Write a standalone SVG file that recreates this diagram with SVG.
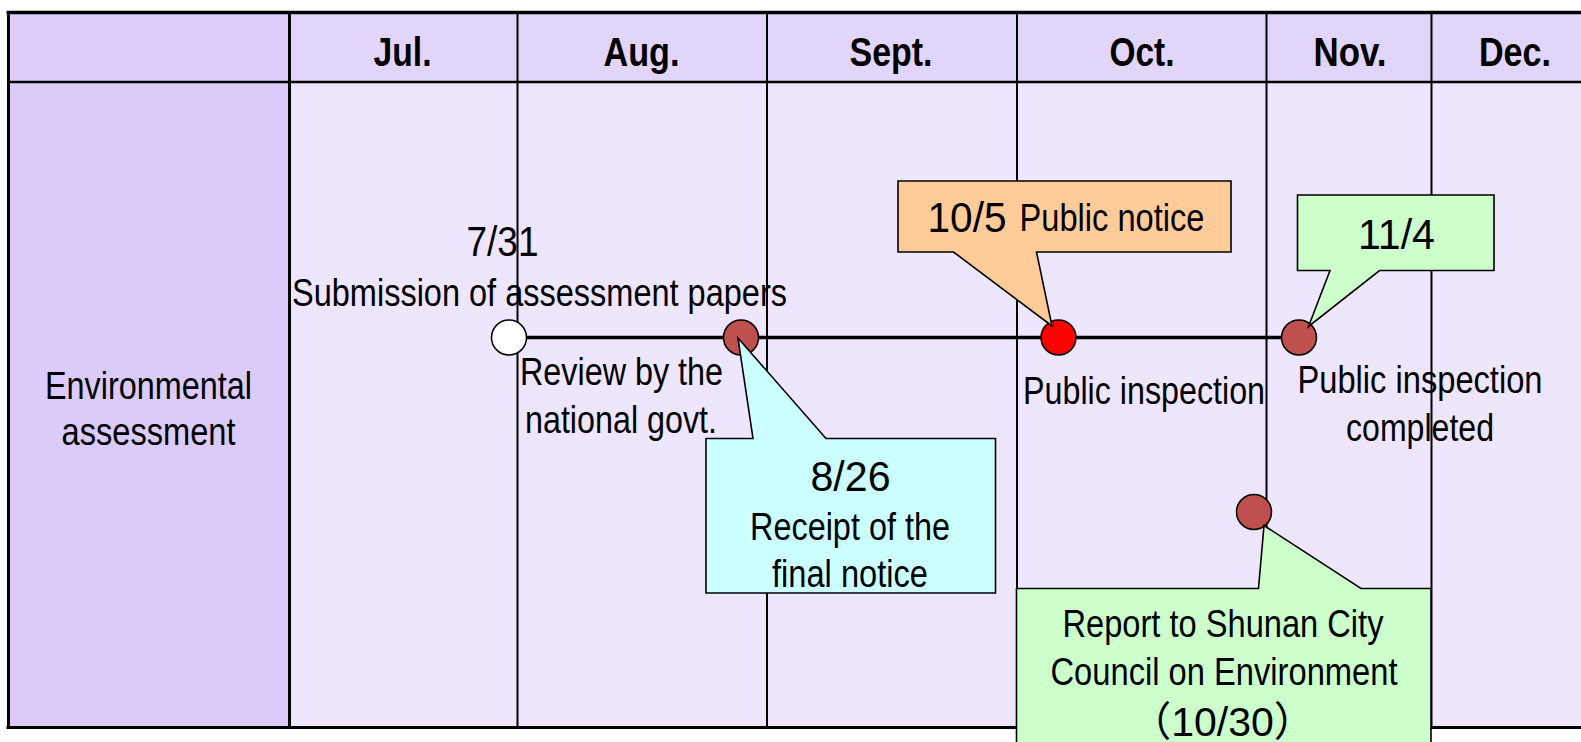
<svg xmlns="http://www.w3.org/2000/svg" width="1581" height="742" viewBox="0 0 1581 742">
  <style>
    .t { font-family: "Liberation Sans", Arial, sans-serif; font-size: 38px; fill: #000; text-anchor: middle; }
    .h { font-family: "Liberation Sans", Arial, sans-serif; font-size: 40px; font-weight: bold; fill: #000; text-anchor: middle; }
    .d { font-family: "Liberation Sans", Arial, sans-serif; font-size: 43px; fill: #000; text-anchor: middle; }
    .cjk { font-family: "Liberation Sans", "Noto Sans CJK JP", sans-serif; font-size: 41px; fill: #000; text-anchor: middle; }
    .grid { stroke: #000; fill: none; }
    .dot { stroke: #000; stroke-width: 1.5; }
    .call { stroke: #000; stroke-width: 1.6; stroke-linejoin: miter; }
  </style>

  <rect width="1581" height="742" fill="#ffffff"/>

  <!-- table: cells -->
  <g id="table">
    <rect x="8" y="12" width="282" height="70" fill="#DCCDFB"/>
    <rect x="290" y="12" width="1291" height="70" fill="#E2D5FA"/>
    <rect x="8" y="82" width="282" height="646" fill="#DACBFA"/>
    <rect x="290" y="82" width="1291" height="646" fill="#EEE6FC"/>

    <!-- month headings -->
    <text class="h" x="402.5" y="65.5" textLength="58" lengthAdjust="spacingAndGlyphs">Jul.</text>
    <text class="h" x="641.5" y="65.5" textLength="76" lengthAdjust="spacingAndGlyphs">Aug.</text>
    <text class="h" x="891" y="65.5" textLength="83" lengthAdjust="spacingAndGlyphs">Sept.</text>
    <text class="h" x="1142" y="65.5" textLength="65" lengthAdjust="spacingAndGlyphs">Oct.</text>
    <text class="h" x="1350" y="65.5" textLength="73" lengthAdjust="spacingAndGlyphs">Nov.</text>
    <text class="h" x="1515" y="65.5" textLength="72" lengthAdjust="spacingAndGlyphs">Dec.</text>

    <!-- row heading -->
    <text class="t" x="148.5" y="399" textLength="207" lengthAdjust="spacingAndGlyphs">Environmental</text>
    <text class="t" x="148.5" y="445" textLength="174" lengthAdjust="spacingAndGlyphs">assessment</text>

    <!-- rules -->
    <g class="grid">
      <line x1="6.5" y1="12.5" x2="1581" y2="12.5" stroke-width="3.5"/>
      <line x1="8" y1="82" x2="1581" y2="82" stroke-width="2.5"/>
      <line x1="6.5" y1="727.5" x2="1581" y2="727.5" stroke-width="3"/>
      <line x1="8.5" y1="11" x2="8.5" y2="729" stroke-width="3"/>
      <line x1="289.5" y1="12" x2="289.5" y2="728" stroke-width="3"/>
      <line x1="517.5" y1="12" x2="517.5" y2="728" stroke-width="2"/>
      <line x1="767" y1="12" x2="767" y2="728" stroke-width="2"/>
      <line x1="1017" y1="12" x2="1017" y2="728" stroke-width="2"/>
      <line x1="1266.5" y1="12" x2="1266.5" y2="728" stroke-width="2"/>
      <line x1="1431.5" y1="12" x2="1431.5" y2="728" stroke-width="2"/>
    </g>
  </g>

  <!-- connectors -->
  <g id="connectors">
    <line x1="509" y1="337.5" x2="1299" y2="337.5" stroke="#000" stroke-width="3.4"/>
  </g>

  <!-- milestones -->
  <g id="submission">
    <text class="d" x="502.5" y="256" textLength="72" lengthAdjust="spacingAndGlyphs">7/31</text>
    <text class="t" x="539.5" y="306" textLength="495" lengthAdjust="spacingAndGlyphs">Submission of assessment papers</text>
    <circle class="dot" cx="509" cy="337.5" r="17.5" fill="#ffffff"/>
  </g>

  <g id="review">
    <text class="t" x="621.5" y="385" textLength="203" lengthAdjust="spacingAndGlyphs">Review by the</text>
    <text class="t" x="621" y="433" textLength="192" lengthAdjust="spacingAndGlyphs">national govt.</text>
  </g>

  <g id="receipt">
    <circle class="dot" cx="741" cy="337.5" r="17.5" fill="#C0504D"/>
    <path class="call" fill="#CCFFFF" d="M706,438.5 H753 L738,338 L826,438.5 H995.5 V593 H706 Z"/>
    <text class="d" x="850.5" y="491" textLength="80" lengthAdjust="spacingAndGlyphs">8/26</text>
    <text class="t" x="850" y="540" textLength="200" lengthAdjust="spacingAndGlyphs">Receipt of the</text>
    <text class="t" x="850" y="587" textLength="156" lengthAdjust="spacingAndGlyphs">final notice</text>
  </g>

  <g id="public-notice">
    <text class="t" x="1144" y="404" textLength="242" lengthAdjust="spacingAndGlyphs">Public inspection</text>
    <circle class="dot" cx="1058.5" cy="337.5" r="17.5" fill="#FF0000"/>
    <path class="call" fill="#FFCC99" d="M898,181 H1231 V252 H1036.5 L1052,326 L953.5,252 H898 Z"/>
    <text class="d" x="967" y="232" textLength="79" lengthAdjust="spacingAndGlyphs">10/5</text>
    <text class="t" x="1112" y="231" textLength="185" lengthAdjust="spacingAndGlyphs">Public notice</text>
  </g>

  <g id="inspection-completed">
    <text class="t" x="1420" y="393" textLength="245" lengthAdjust="spacingAndGlyphs">Public inspection</text>
    <text class="t" x="1420" y="441" textLength="148" lengthAdjust="spacingAndGlyphs">completed</text>
    <circle class="dot" cx="1299" cy="337.5" r="17.5" fill="#C0504D"/>
    <path class="call" fill="#CCFFCC" d="M1297.5,195 H1494 V270.5 H1379.5 L1308.5,326.5 L1330,270.5 H1297.5 Z"/>
    <text class="d" x="1396.5" y="249" textLength="77" lengthAdjust="spacingAndGlyphs">11/4</text>
  </g>

  <g id="council-report">
    <circle class="dot" cx="1254" cy="512" r="17.5" fill="#C0504D"/>
    <path class="call" fill="#CCFFCC" d="M1016.5,588.5 H1258.5 L1264,525.5 L1361,588.5 H1431 V760 H1016.5 Z"/>
    <text class="t" x="1223" y="637" textLength="321" lengthAdjust="spacingAndGlyphs">Report to Shunan City</text>
    <text class="t" x="1224" y="685" textLength="347" lengthAdjust="spacingAndGlyphs">Council on Environment</text>
    <text class="cjk" x="1222.5" y="736">（10/30）</text>
  </g>
</svg>
